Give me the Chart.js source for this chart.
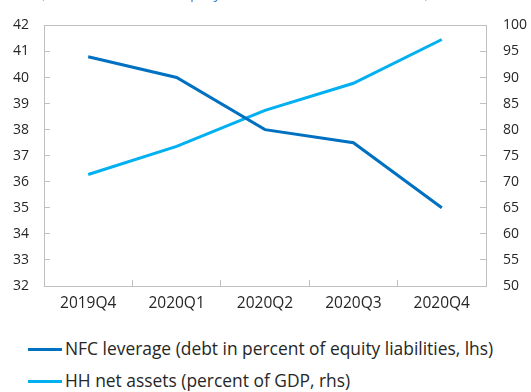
<!DOCTYPE html>
<html>
<head>
<meta charset="utf-8">
<script src="https://cdn.jsdelivr.net/npm/chart.js@4"></script>
<style>
  body { margin: 0; background: #fff; font-family: "Open Sans", sans-serif; }
  #wrap { position: relative; width: 531px; height: 392px; overflow: hidden; }
  #c { position: absolute; left: 0; top: -6px; }
  #title { position: absolute; left: 40px; top: -19px; font-size: 16px; color: #3d8ad0; white-space: nowrap; }
  .leg { position: absolute; left: 28px; font-size: 17.4px; color: #262626; white-space: nowrap; line-height: 24px; }
  .leg span { display: inline-block; width: 34px; height: 3px; vertical-align: middle; margin-right: 3px; position: relative; top: -1px; }
</style>
</head>
<body>
<div id="wrap">
  <canvas id="c" width="531" height="330"></canvas>
  <div id="title">(NFC debt to total equity and HH assets net of loans)</div>
  <div class="leg" style="top:336px"><span style="background:#0070C0"></span>NFC leverage (debt in percent of equity liabilities, lhs)</div>
  <div class="leg" style="top:368px"><span style="background:#00B0F0"></span>HH net assets (percent of GDP, rhs)</div>
</div>
<script>
const quarters = ['2019Q4', '2020Q1', '2020Q2', '2020Q3', '2020Q4'];
const nfcLeverage = [40.8, 40.0, 38.0, 37.5, 35.0];
const hhNetAssets = [71.4, 76.8, 83.7, 88.9, 97.3];

const axisColor = '#bfbfbf';
const yFont = { family: 'Open Sans', size: 14 };
const xFont = { family: 'Open Sans', size: 15.5 };

const plotBox = {
  id: 'plotBox',
  afterDraw(chart) {
    const a = chart.chartArea, ctx = chart.ctx;
    ctx.save();
    ctx.strokeStyle = axisColor;
    ctx.lineWidth = 1;
    ctx.strokeRect(Math.round(a.left) + 0.5, Math.round(a.top) + 0.5, Math.round(a.right - a.left), Math.round(a.bottom - a.top));
    ctx.restore();
  }
};

new Chart(document.getElementById('c'), {
  type: 'line',
  data: {
    labels: quarters,
    datasets: [
      { label: 'NFC leverage (debt in percent of equity liabilities, lhs)', data: nfcLeverage, yAxisID: 'y',
        borderColor: '#0070C0', borderWidth: 3, pointRadius: 0, tension: 0 },
      { label: 'HH net assets (percent of GDP, rhs)', data: hhNetAssets, yAxisID: 'y1',
        borderColor: '#00B0F0', borderWidth: 3, pointRadius: 0, tension: 0 }
    ]
  },
  options: {
    responsive: false,
    animation: false,
    layout: { padding: { top: 10, left: 0, right: 0, bottom: 0 } },
    plugins: { legend: { display: false }, tooltip: { enabled: false } },
    scales: {
      x: {
        offset: true,
        grid: { offset: true, drawOnChartArea: false, tickLength: -6, color: axisColor },
        border: { color: axisColor },
        ticks: { color: '#262626', font: xFont, padding: 14, maxRotation: 0 },
        afterFit: s => { s.height = 38; }
      },
      y: {
        position: 'left', min: 32, max: 42,
        grid: { drawOnChartArea: false, tickLength: -6, color: axisColor },
        border: { color: axisColor },
        ticks: { stepSize: 1, color: '#262626', font: yFont, padding: 21 },
        afterFit: s => { s.width = 44; }
      },
      y1: {
        position: 'right', min: 50, max: 100,
        grid: { drawOnChartArea: false, tickLength: -6, color: axisColor },
        border: { color: axisColor },
        ticks: { stepSize: 5, color: '#262626', font: yFont, padding: 23 },
        afterFit: s => { s.width = 45; }
      }
    }
  },
  plugins: [plotBox]
});
</script>
</body>
</html>
